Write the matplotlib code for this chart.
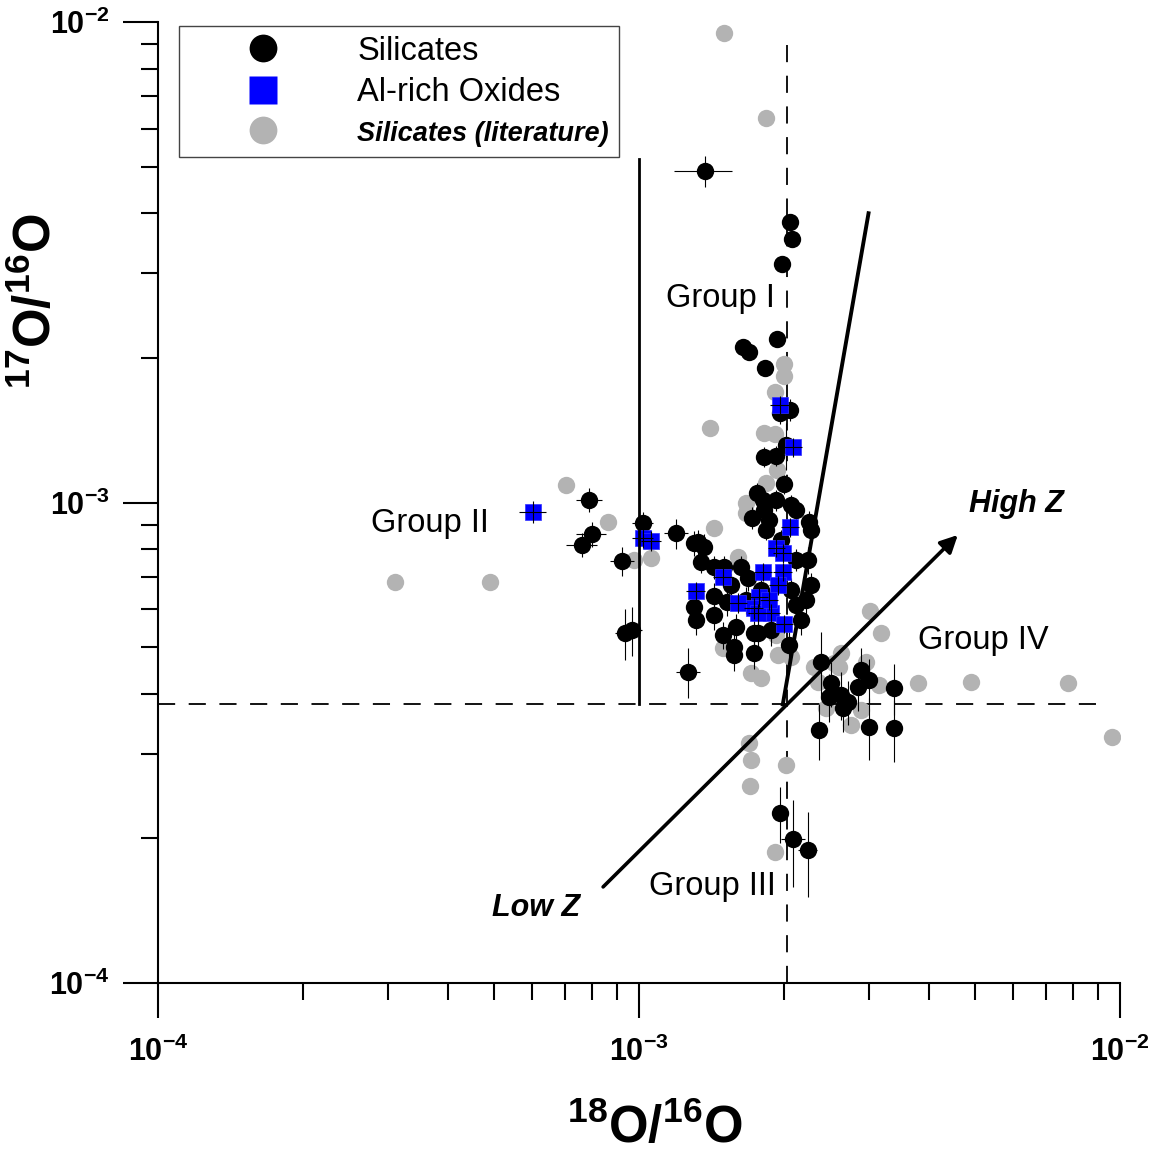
import matplotlib
matplotlib.use('Agg')

import matplotlib.pyplot as plt
import numpy as np
from matplotlib.lines import Line2D
from matplotlib.ticker import LogLocator, FuncFormatter, NullFormatter

plt.rcParams['font.family'] = ['Liberation Sans', 'DejaVu Sans']
plt.rcParams['mathtext.fontset'] = 'custom'
plt.rcParams['mathtext.rm'] = 'Liberation Sans:bold'
plt.rcParams['mathtext.bf'] = 'Liberation Sans:bold'
plt.rcParams['mathtext.it'] = 'Liberation Sans:bold:italic'
plt.rcParams['mathtext.default'] = 'bf'

# all ratios in units of 1e-3
# silicates (this work) with 1-sigma errors
sil_x = [1.37, 2.06, 2.08, 1.98, 1.94, 1.645, 1.69, 1.83, 2.06, 1.965,
         2.02, 1.82, 1.93, 2.00, 1.76, 1.81, 1.93, 2.07, 2.12, 2.255,
         2.28, 0.787, 0.798, 0.761, 1.019, 0.922, 0.935, 0.967, 1.194, 1.326,
         1.365, 1.30, 1.346, 1.432, 1.502, 1.63, 1.686, 1.553, 1.301, 1.314,
         1.432, 1.495, 1.592, 1.576, 1.734, 1.734, 1.576, 2.05, 1.264, 2.39,
         2.505, 2.48, 2.63, 2.72, 2.655, 2.89, 3.01, 2.85, 3.39, 2.37,
         3.01, 3.39, 1.965, 2.09, 2.245, 1.767, 2.245, 1.82, 1.836, 1.974,
         2.12, 2.07, 2.12, 2.17, 1.792, 1.67, 1.88, 2.28, 2.22, 1.43,
         1.52, 1.72, 1.86]
sil_y = [4.90, 3.84, 3.53, 3.14, 2.19, 2.11, 2.06, 1.91, 1.56, 1.536,
         1.317, 1.244, 1.25, 1.093, 1.046, 1.012, 1.01, 0.988, 0.965, 0.911,
         0.877, 1.012, 0.860, 0.816, 0.906, 0.756, 0.535, 0.543, 0.864, 0.828,
         0.808, 0.824, 0.752, 0.734, 0.734, 0.734, 0.696, 0.673, 0.606, 0.569,
         0.583, 0.530, 0.551, 0.500, 0.535, 0.486, 0.482, 0.505, 0.444, 0.466,
         0.421, 0.394, 0.398, 0.385, 0.3735, 0.448, 0.427, 0.413, 0.411, 0.336,
         0.341, 0.339, 0.226, 0.1994, 0.189, 0.535, 0.759, 0.965, 0.877, 0.836,
         0.759, 0.657, 0.612, 0.569, 0.657, 0.627, 0.543, 0.673, 0.627, 0.64,
         0.62, 0.93, 0.92]
sil_xerr = [0.19, 0.05, 0.05, 0.05, 0.05, 0.04, 0.04, 0.05, 0.05, 0.05,
            0.05, 0.05, 0.05, 0.05, 0.05, 0.05, 0.05, 0.05, 0.05, 0.06,
            0.06, 0.049, 0.057, 0.057, 0.05, 0.053, 0.045, 0.045, 0.069, 0.05,
            0.05, 0.04, 0.04, 0.05, 0.05, 0.05, 0.05, 0.05, 0.04, 0.04,
            0.04, 0.04, 0.04, 0.04, 0.05, 0.05, 0.04, 0.05, 0.073, 0.06,
            0.06, 0.06, 0.06, 0.06, 0.06, 0.07, 0.07, 0.07, 0.08, 0.05,
            0.06, 0.06, 0.05, 0.12, 0.10, 0.05, 0.06, 0.05, 0.05, 0.05,
            0.05, 0.05, 0.05, 0.05, 0.05, 0.05, 0.05, 0.06, 0.06, 0.04,
            0.04, 0.05, 0.05]
sil_yerr = [0.36, 0.10, 0.10, 0.09, 0.07, 0.06, 0.06, 0.06, 0.08, 0.08,
            0.15, 0.06, 0.06, 0.05, 0.05, 0.05, 0.05, 0.05, 0.05, 0.05,
            0.05, 0.058, 0.05, 0.047, 0.05, 0.054, 0.064, 0.064, 0.062, 0.05,
            0.05, 0.05, 0.04, 0.04, 0.04, 0.04, 0.04, 0.04, 0.04, 0.04,
            0.04, 0.035, 0.035, 0.035, 0.035, 0.035, 0.035, 0.04, 0.053, 0.071,
            0.045, 0.045, 0.045, 0.04, 0.04, 0.05, 0.045, 0.045, 0.05, 0.045,
            0.05, 0.05, 0.030, 0.041, 0.038, 0.035, 0.05, 0.05, 0.04, 0.04,
            0.04, 0.04, 0.04, 0.04, 0.04, 0.04, 0.04, 0.04, 0.04, 0.04,
            0.04, 0.05, 0.05]

# Al-rich oxides
al_x = [0.602, 1.019, 1.059, 1.965, 2.09, 2.06, 1.93, 1.993, 1.495, 1.314,
        1.81, 1.993, 1.946, 1.776, 1.607, 1.734, 1.88, 2.003, 1.767, 1.864]
al_y = [0.955, 0.844, 0.832, 1.596, 1.305, 0.889, 0.804, 0.785, 0.70, 0.654,
        0.717, 0.717, 0.673, 0.636, 0.618, 0.603, 0.589, 0.559, 0.589, 0.627]
al_xerr = [0.040, 0.05, 0.05, 0.09, 0.09, 0.09, 0.08, 0.09, 0.07, 0.06,
           0.08, 0.09, 0.08, 0.08, 0.07, 0.08, 0.08, 0.09, 0.08, 0.08]
al_yerr = [0.050, 0.04, 0.04, 0.07, 0.06, 0.04, 0.035, 0.035, 0.03, 0.03,
           0.03, 0.03, 0.03, 0.03, 0.03, 0.03, 0.025, 0.025, 0.025, 0.03]

# silicates from the literature
lit_x = [1.502, 1.836, 2.003, 2.003, 1.918, 1.405, 1.818, 1.918, 1.936, 1.836,
         1.670, 1.670, 1.432, 0.705, 0.862, 0.976, 1.059, 0.311, 0.490, 1.93,
         1.946, 2.07, 1.495, 1.71, 1.792, 2.20, 2.31, 2.54, 2.63, 2.36,
         2.60, 2.96, 3.15, 3.02, 3.18, 3.80, 4.90, 7.80, 9.60, 2.89,
         2.76, 2.446, 1.693, 1.71, 1.70, 2.02, 1.918, 1.607]
lit_y = [9.49, 6.31, 1.942, 1.834, 1.698, 1.429, 1.395, 1.388, 1.169, 1.098,
         0.998, 0.951, 0.885, 1.087, 0.911, 0.759, 0.766, 0.683, 0.683, 0.530,
         0.482, 0.477, 0.498, 0.442, 0.431, 0.633, 0.455, 0.463, 0.486, 0.423,
         0.455, 0.466, 0.417, 0.595, 0.535, 0.421, 0.423, 0.421, 0.325, 0.370,
         0.344, 0.3735, 0.316, 0.291, 0.257, 0.284, 0.1874, 0.770]

# solar values and group boundaries
solar_18 = 2.03
solar_17 = 0.38
group1_left = [1.0, 1.0]
group1_left_y = [0.38, 5.2]
group1_right_x = [1.99, 3.0]
group1_right_y = [0.38, 4.0]
arrow_start = (0.842, 0.1585)
arrow_end = (4.6, 0.856)

s = 1e-3
fig = plt.figure(figsize=(11.56, 11.55), dpi=100)
ax = fig.add_axes([0.1367, 0.1489, 0.8322, 0.8320])
ax.set_xscale('log')
ax.set_yscale('log')
ax.set_xlim(1e-4, 1e-2)
ax.set_ylim(1e-4, 1e-2)

grey = '#b3b3b3'
ax.plot(np.array(lit_x) * s, np.array(lit_y) * s, 'o', color=grey, ms=12.5,
        mec='none', zorder=2)
ax.errorbar(np.array(sil_x) * s, np.array(sil_y) * s,
            xerr=np.array(sil_xerr) * s, yerr=np.array(sil_yerr) * s,
            fmt='o', color='black', ms=12.5, mec='none', ecolor='black',
            elinewidth=0.8, capsize=0, zorder=3)
ax.plot(np.array(al_x) * s, np.array(al_y) * s, 's', color='#0000ff', ms=12,
        mec='#3030ff', mew=0.5, zorder=4)
ax.errorbar(np.array(al_x) * s, np.array(al_y) * s,
            xerr=np.array(al_xerr) * s, yerr=np.array(al_yerr) * s,
            fmt='none', ecolor='black', elinewidth=0.8, capsize=0, zorder=5)

# reference lines
ax.plot([solar_18 * s, solar_18 * s], [1e-4, 9.3e-3], color='black', lw=1.3,
        ls=(0, (9.5, 7.5)), zorder=1)
ax.plot([1e-4, 9.4e-3], [solar_17 * s, solar_17 * s], color='black', lw=1.3,
        ls=(0, (9.5, 7.5)), zorder=1)
ax.plot(np.array(group1_left) * s, np.array(group1_left_y) * s, color='black',
        lw=2.0, zorder=6)
ax.plot(np.array(group1_right_x) * s, np.array(group1_right_y) * s,
        color='black', lw=2.8, zorder=6)
ax.annotate('', xy=(arrow_end[0] * s, arrow_end[1] * s),
            xytext=(arrow_start[0] * s, arrow_start[1] * s),
            arrowprops=dict(arrowstyle='-|>', lw=2.6, color='black',
                            mutation_scale=26, shrinkA=0, shrinkB=0),
            zorder=6)

# labels in the plot
lab = dict(fontsize=23.5, ha='center', va='center', zorder=7)
ax.text(1.48e-3, 2.665e-3, 'Group I', **lab)
ax.text(0.3677e-3, 0.906e-3, 'Group II', **lab)
ax.text(1.418e-3, 0.159e-3, 'Group III', **lab)
ax.text(5.19e-3, 0.5175e-3, 'Group IV', **lab)
ax.text(6.08e-3, 0.993e-3, 'High Z', fontsize=22, fontweight='bold',
        style='italic', ha='center', va='center')
ax.text(0.611e-3, 0.1432e-3, 'Low Z', fontsize=22, fontweight='bold',
        style='italic', ha='center', va='center')

# axes styling
for side in ['top', 'right']:
    ax.spines[side].set_visible(False)
for side in ['left', 'bottom']:
    ax.spines[side].set_linewidth(1.5)

fmt = FuncFormatter(lambda v, p: r'$\mathbf{10^{%d}}$' % int(round(np.log10(v))))
for axis in [ax.xaxis, ax.yaxis]:
    axis.set_major_locator(LogLocator(base=10, numticks=5))
    axis.set_minor_locator(LogLocator(base=10, subs=np.arange(2, 10), numticks=20))
    axis.set_major_formatter(fmt)
    axis.set_minor_formatter(NullFormatter())
ax.tick_params(which='major', length=25, width=1.5, labelsize=22)
ax.tick_params(which='minor', length=12, width=1.5)
ax.tick_params(axis='y', which='major', pad=10)
ax.tick_params(axis='x', which='major', pad=14)

ax.set_xlabel(r'$^{18}$O/$^{16}$O', fontsize=36.5, fontweight='bold')
ax.set_ylabel(r'$^{17}$O/$^{16}$O', fontsize=36.5, fontweight='bold')
ax.xaxis.set_label_coords(0.516, -0.125)
ax.yaxis.set_label_coords(-0.10, 0.71)

# legend
handles = [
    Line2D([], [], ls='none', marker='o', ms=20, color='black', mec='none'),
    Line2D([], [], ls='none', marker='s', ms=20, color='#0000ff', mec='none'),
    Line2D([], [], ls='none', marker='o', ms=20, color=grey, mec='none'),
]
leg = ax.legend(handles, ['Silicates', 'Al-rich Oxides', 'Silicates (literature)'],
                loc='upper left', bbox_to_anchor=(0.0218, 0.9958), fontsize=23.5,
                frameon=True, fancybox=False, edgecolor='#444444', framealpha=1,
                borderpad=0.30, labelspacing=0.31, handlelength=4.54,
                handletextpad=0.62, borderaxespad=0)
leg.get_frame().set_linewidth(1.0)
leg.get_texts()[2].set_fontweight('bold')
leg.get_texts()[2].set_fontstyle('italic')
leg.get_texts()[2].set_fontsize(19.5)

plt.savefig('out.png', dpi=100)
